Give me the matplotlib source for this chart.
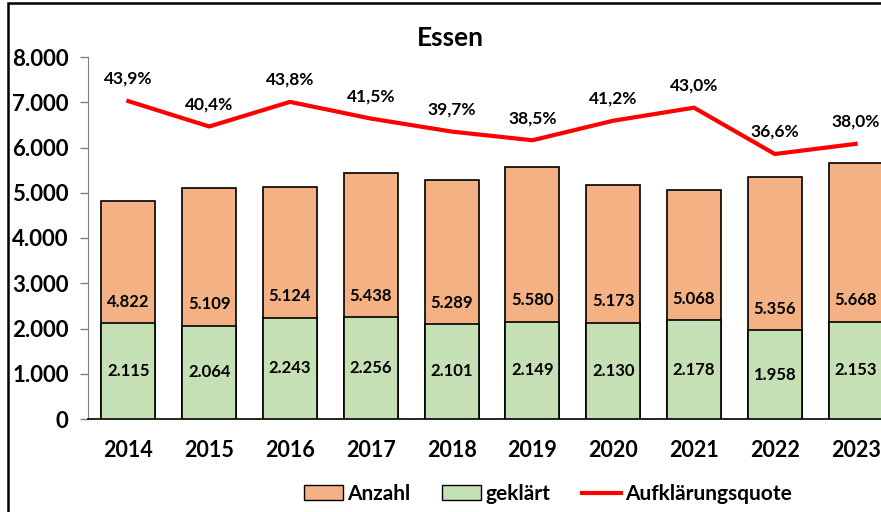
import matplotlib
matplotlib.use("Agg")
import matplotlib.pyplot as plt
from matplotlib.patches import Rectangle, Patch
from matplotlib.lines import Line2D
from matplotlib.ticker import FuncFormatter

plt.rcParams['font.family'] = ['Lato', 'DejaVu Sans']
plt.rcParams['font.weight'] = 'bold'

jahre = ['2014', '2015', '2016', '2017', '2018', '2019', '2020', '2021', '2022', '2023']
anzahl = [4822, 5109, 5124, 5438, 5289, 5580, 5173, 5068, 5356, 5668]
geklaert = [2115, 2064, 2243, 2256, 2101, 2149, 2130, 2178, 1958, 2153]
quote = [43.9, 40.4, 43.8, 41.5, 39.7, 38.5, 41.2, 43.0, 36.6, 38.0]

orange = '#F4B183'
gruen = '#C5E0B4'
rot = '#FF0000'

def de(n):
    return f"{n:,.0f}".replace(",", ".")

fig = plt.figure(figsize=(8.81, 5.12), dpi=100)
ax = fig.add_axes([88/881, 93/512, 808/881, 362/512])
x = list(range(len(jahre)))

ax.bar(x, anzahl, width=0.67, color=orange, edgecolor='black', linewidth=1.2, zorder=2)
ax.bar(x, geklaert, width=0.67, color=gruen, edgecolor='black', linewidth=1.2, zorder=3)

for i in x:
    ax.text(i, geklaert[i] + 470, de(anzahl[i]), ha='center', va='center',
            fontsize=12, fontweight='bold', zorder=5)
    ax.text(i, geklaert[i] / 2, de(geklaert[i]), ha='center', va='center',
            fontsize=12, fontweight='bold', zorder=5)

ax.set_xlim(-0.5, 9.5)
ax.set_ylim(0, 8000)
ax.set_yticks(range(0, 8001, 1000))
ax.yaxis.set_major_formatter(FuncFormatter(lambda v, p: de(v)))
ax.set_xticks(x)
ax.set_xticklabels(jahre)
ax.tick_params(axis='y', labelsize=16, length=6, color='#808080', width=1, pad=8)
ax.tick_params(axis='x', labelsize=15.5, length=0, pad=15)
for lab in ax.get_xticklabels() + ax.get_yticklabels():
    lab.set_fontweight('bold')
ax.spines['top'].set_visible(False)
ax.spines['right'].set_visible(False)
ax.spines['left'].set_color('#808080')
ax.spines['bottom'].set_color('black')
ax.spines['bottom'].set_linewidth(1.2)

# Aufklaerungsquote auf verdeckter Zweitachse
ax2 = ax.twinx()
ax2.set_ylim(0, 50)
ax2.plot(x, quote, color=rot, linewidth=3, zorder=4)
for i in x:
    ax2.annotate(f"{quote[i]:.1f}%".replace(".", ","), (i, quote[i]),
                 xytext=(0, 16), textcoords='offset points', ha='center', va='center',
                 fontsize=12.5, fontweight='bold')
ax2.axis('off')

fig.text(450/881, 1 - 38/512, 'Essen', ha='center', va='center', fontsize=19, fontweight='bold')

handles = [Patch(facecolor=orange, edgecolor='black', label='Anzahl'),
           Patch(facecolor=gruen, edgecolor='black', label='geklärt'),
           Line2D([0], [0], color=rot, linewidth=3, label='Aufklärungsquote')]
leg = fig.legend(handles=handles, loc='center', bbox_to_anchor=(548/881, 1 - 494/512), ncol=3,
                 frameon=False, prop={'size': 15, 'weight': 'bold'},
                 handlelength=1.9, handletextpad=0.2, columnspacing=1.5)

fig.patches.append(Rectangle((8/881, -0.1), 1.2, 1 - 3/512 + 0.1, transform=fig.transFigure,
                             fill=False, edgecolor='black', linewidth=1.8))

fig.savefig('out.png', dpi=100)
